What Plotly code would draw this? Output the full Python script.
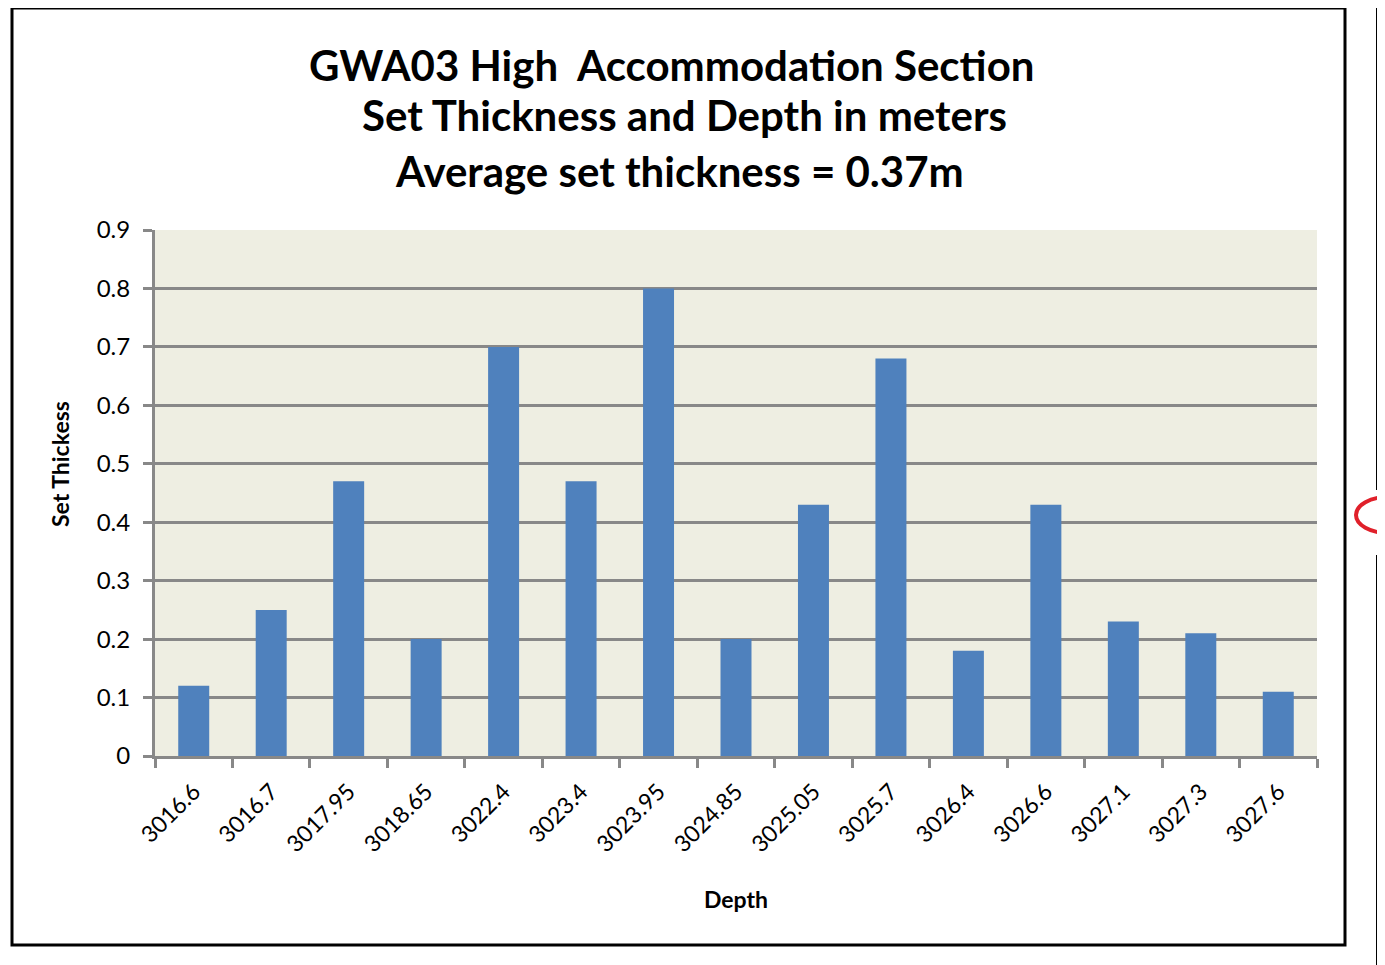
import plotly.graph_objects as go

depths = ["3016.6", "3016.7", "3017.95", "3018.65", "3022.4", "3023.4", "3023.95",
          "3024.85", "3025.05", "3025.7", "3026.4", "3026.6", "3027.1", "3027.3", "3027.6"]
thickness = [0.12, 0.25, 0.47, 0.20, 0.70, 0.47, 0.80, 0.20, 0.43, 0.68, 0.18, 0.43, 0.23, 0.21, 0.11]

title_lines = ["GWA03 High  Accommodation Section",
               "Set Thickness and Depth in meters",
               "Average set thickness = 0.37m"]
x_title = "Depth"
y_title = "Set Thickess"

OFF = 8  # page body margin
W, H = 1385 - OFF, 965 - OFF
L, R, T, B = 155, 1317, 230, 756  # target pixel positions in the screenshot

def px(x):
    return (x - L) / (R - L)

def py(y):
    return (B - y) / (B - T)

FONT = "Lato"

fig = go.Figure(go.Bar(x=depths, y=thickness, marker=dict(color="#4F81BD", line=dict(width=0))))

fig.update_layout(
    width=W, height=H,
    margin=dict(l=L - OFF, r=1385 - R, t=T - OFF, b=965 - B, pad=0),
    paper_bgcolor="white",
    plot_bgcolor="#EEEEE2",
    bargap=0.6,
    showlegend=False,
    font=dict(family=FONT, color="black"),
)

fig.update_xaxes(
    type="category", tickson="boundaries", ticks="outside", ticklen=9, tickwidth=3,
    tickcolor="#888888", showline=True, linecolor="#888888", linewidth=3,
    showgrid=False, tickangle=-45, tickfont=dict(size=23, family=FONT),
    ticklabelstandoff=10,
    title=dict(text=f"<b>{x_title}</b>", font=dict(size=23, family=FONT), standoff=36),
)
fig.update_yaxes(
    range=[0, 0.9], dtick=0.1, tickformat="~g", ticks="outside", ticklen=9, tickwidth=3,
    tickcolor="#888888", showline=True, linecolor="#888888", linewidth=3,
    showgrid=True, gridcolor="#888888", gridwidth=3, zeroline=False,
    tickfont=dict(size=24, family=FONT), ticklabelstandoff=8,
)

ann = []
for text, xc, yc in zip(title_lines, [671, 684, 679], [65, 115, 171]):
    ann.append(dict(text=f"<b>{text}</b>", x=px(xc), y=py(yc), xref="paper", yref="paper",
                    showarrow=False, xanchor="center", yanchor="middle",
                    font=dict(size=42, family=FONT, color="black")))
ann.append(dict(text=f"<b>{y_title}</b>", x=px(60), y=py(464), xref="paper", yref="paper",
                showarrow=False, xanchor="center", yanchor="middle", textangle=-90,
                font=dict(size=23, family=FONT, color="black")))
fig.update_layout(annotations=ann)

shapes = [
    dict(type="rect", xref="paper", yref="paper", x0=px(12), x1=px(1345), y0=py(8), y1=py(945),
         line=dict(color="black", width=3), fillcolor="rgba(0,0,0,0)", layer="below"),
    dict(type="line", xref="paper", yref="paper", x0=px(1378), x1=px(1378), y0=py(0), y1=py(490),
         line=dict(color="black", width=4)),
    dict(type="line", xref="paper", yref="paper", x0=px(1378), x1=px(1390), y0=py(490), y1=py(490),
         line=dict(color="black", width=3)),
    dict(type="line", xref="paper", yref="paper", x0=px(1378), x1=px(1378), y0=py(555), y1=py(965),
         line=dict(color="black", width=4)),
    dict(type="line", xref="paper", yref="paper", x0=px(1378), x1=px(1390), y0=py(555), y1=py(555),
         line=dict(color="black", width=3)),
    dict(type="circle", xref="paper", yref="paper", x0=px(1356), x1=px(1420), y0=py(497), y1=py(533),
         line=dict(color="#E0202A", width=4)),
]
fig.update_layout(shapes=shapes)

fig.write_html("out.html")
